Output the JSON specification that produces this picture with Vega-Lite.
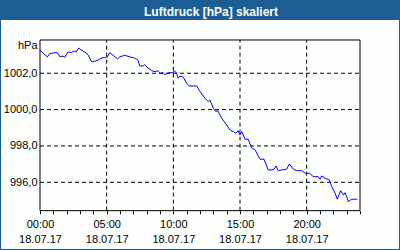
{
  "$schema": "https://vega.github.io/schema/vega-lite/v6.json",
  "autosize": "none",
  "width": 398,
  "height": 229,
  "padding": {"top": 20, "left": 1, "right": 1, "bottom": 1},
  "background": "#1c5e94",
  "config": {
    "view": {"fill": "#fcfffc", "stroke": null},
    "font": "Liberation Sans",
    "axis": {"grid": false, "domain": false, "labelFont": "Liberation Sans", "labelFontSize": 11, "labelColor": "#000000", "labelOverlap": false, "labelBound": false, "labelFlush": false}
  },
  "title": {
    "text": "Luftdruck [hPa] skaliert",
    "color": "#ffffff",
    "font": "Liberation Sans",
    "fontSize": 12,
    "fontWeight": "bold",
    "anchor": "middle",
    "frame": "group",
    "baseline": "alphabetic",
    "offset": -8,
    "dx": 11
  },
  "datasets": {
    "pressure": [
      {"t": "2017-07-18T00:00", "v": 1003.27},
      {"t": "2017-07-18T00:33", "v": 1002.90},
      {"t": "2017-07-18T00:44", "v": 1003.08},
      {"t": "2017-07-18T01:06", "v": 1003.13},
      {"t": "2017-07-18T01:18", "v": 1003.13},
      {"t": "2017-07-18T01:30", "v": 1002.90},
      {"t": "2017-07-18T01:44", "v": 1002.95},
      {"t": "2017-07-18T01:51", "v": 1002.86},
      {"t": "2017-07-18T02:06", "v": 1003.17},
      {"t": "2017-07-18T02:21", "v": 1003.13},
      {"t": "2017-07-18T02:33", "v": 1003.23},
      {"t": "2017-07-18T02:43", "v": 1003.17},
      {"t": "2017-07-18T02:54", "v": 1003.39},
      {"t": "2017-07-18T03:06", "v": 1003.27},
      {"t": "2017-07-18T03:21", "v": 1003.17},
      {"t": "2017-07-18T03:36", "v": 1003.02},
      {"t": "2017-07-18T03:48", "v": 1002.72},
      {"t": "2017-07-18T03:54", "v": 1002.62},
      {"t": "2017-07-18T04:06", "v": 1002.66},
      {"t": "2017-07-18T04:21", "v": 1002.72},
      {"t": "2017-07-18T04:36", "v": 1002.84},
      {"t": "2017-07-18T04:51", "v": 1002.86},
      {"t": "2017-07-18T05:03", "v": 1002.90},
      {"t": "2017-07-18T05:14", "v": 1003.13},
      {"t": "2017-07-18T05:29", "v": 1002.99},
      {"t": "2017-07-18T05:48", "v": 1002.80},
      {"t": "2017-07-18T05:59", "v": 1002.90},
      {"t": "2017-07-18T06:21", "v": 1002.99},
      {"t": "2017-07-18T06:44", "v": 1002.90},
      {"t": "2017-07-18T07:06", "v": 1002.84},
      {"t": "2017-07-18T07:21", "v": 1002.72},
      {"t": "2017-07-18T07:29", "v": 1002.40},
      {"t": "2017-07-18T07:44", "v": 1002.40},
      {"t": "2017-07-18T07:51", "v": 1002.47},
      {"t": "2017-07-18T08:07", "v": 1002.28},
      {"t": "2017-07-18T08:23", "v": 1002.14},
      {"t": "2017-07-18T08:38", "v": 1002.09},
      {"t": "2017-07-18T08:50", "v": 1002.14},
      {"t": "2017-07-18T09:00", "v": 1002.00},
      {"t": "2017-07-18T09:15", "v": 1002.03},
      {"t": "2017-07-18T09:23", "v": 1001.91},
      {"t": "2017-07-18T09:37", "v": 1002.03},
      {"t": "2017-07-18T10:00", "v": 1002.03},
      {"t": "2017-07-18T10:04", "v": 1002.14},
      {"t": "2017-07-18T10:15", "v": 1002.00},
      {"t": "2017-07-18T10:22", "v": 1001.72},
      {"t": "2017-07-18T10:30", "v": 1001.85},
      {"t": "2017-07-18T10:45", "v": 1001.78},
      {"t": "2017-07-18T11:00", "v": 1001.45},
      {"t": "2017-07-18T11:11", "v": 1001.30},
      {"t": "2017-07-18T11:45", "v": 1001.30},
      {"t": "2017-07-18T12:00", "v": 1000.99},
      {"t": "2017-07-18T12:23", "v": 1000.62},
      {"t": "2017-07-18T12:37", "v": 1000.44},
      {"t": "2017-07-18T12:45", "v": 1000.53},
      {"t": "2017-07-18T13:00", "v": 1000.07},
      {"t": "2017-07-18T13:11", "v": 999.89},
      {"t": "2017-07-18T13:20", "v": 999.94},
      {"t": "2017-07-18T13:38", "v": 999.52},
      {"t": "2017-07-18T14:00", "v": 999.15},
      {"t": "2017-07-18T14:15", "v": 998.88},
      {"t": "2017-07-18T14:30", "v": 998.79},
      {"t": "2017-07-18T14:41", "v": 998.70},
      {"t": "2017-07-18T14:52", "v": 998.84},
      {"t": "2017-07-18T15:00", "v": 998.60},
      {"t": "2017-07-18T15:08", "v": 998.79},
      {"t": "2017-07-18T15:23", "v": 998.37},
      {"t": "2017-07-18T15:37", "v": 998.37},
      {"t": "2017-07-18T15:50", "v": 997.96},
      {"t": "2017-07-18T15:55", "v": 997.87},
      {"t": "2017-07-18T16:04", "v": 997.82},
      {"t": "2017-07-18T16:08", "v": 997.78},
      {"t": "2017-07-18T16:30", "v": 997.27},
      {"t": "2017-07-18T16:48", "v": 997.27},
      {"t": "2017-07-18T17:07", "v": 996.68},
      {"t": "2017-07-18T17:30", "v": 996.68},
      {"t": "2017-07-18T17:42", "v": 996.90},
      {"t": "2017-07-18T17:52", "v": 996.64},
      {"t": "2017-07-18T18:08", "v": 996.68},
      {"t": "2017-07-18T18:30", "v": 996.72},
      {"t": "2017-07-18T18:42", "v": 997.01},
      {"t": "2017-07-18T19:00", "v": 996.72},
      {"t": "2017-07-18T19:15", "v": 996.64},
      {"t": "2017-07-18T19:38", "v": 996.64},
      {"t": "2017-07-18T19:53", "v": 996.50},
      {"t": "2017-07-18T20:12", "v": 996.50},
      {"t": "2017-07-18T20:30", "v": 996.31},
      {"t": "2017-07-18T20:52", "v": 996.31},
      {"t": "2017-07-18T21:00", "v": 996.17},
      {"t": "2017-07-18T21:08", "v": 996.35},
      {"t": "2017-07-18T21:23", "v": 996.22},
      {"t": "2017-07-18T21:42", "v": 996.13},
      {"t": "2017-07-18T21:53", "v": 995.76},
      {"t": "2017-07-18T22:08", "v": 995.40},
      {"t": "2017-07-18T22:18", "v": 995.07},
      {"t": "2017-07-18T22:33", "v": 995.54},
      {"t": "2017-07-18T22:45", "v": 995.30},
      {"t": "2017-07-18T22:53", "v": 995.43},
      {"t": "2017-07-18T23:03", "v": 995.12},
      {"t": "2017-07-18T23:07", "v": 994.93},
      {"t": "2017-07-18T23:23", "v": 995.07},
      {"t": "2017-07-18T23:48", "v": 995.07}
    ],
    "gridx": [
      {"t": "2017-07-18T05:00"},
      {"t": "2017-07-18T10:00"},
      {"t": "2017-07-18T15:00"},
      {"t": "2017-07-18T20:00"}
    ],
    "gridy": [
      {"v": 996},
      {"v": 998},
      {"v": 1000},
      {"v": 1002}
    ]
  },
  "layer": [
    {
      "data": {"name": "gridx"},
      "mark": {"type": "rule", "color": "#000000", "strokeWidth": 1, "strokeDash": [4, 3]},
      "encoding": {
        "x": {"field": "t", "type": "temporal", "title": null,
              "scale": {"domain": [{"year": 2017, "month": 7, "date": 17, "hours": 21, "minutes": 4, "seconds": 30}, {"year": 2017, "month": 7, "date": 19, "hours": 2, "minutes": 55, "seconds": 30}], "nice": false},
              "axis": {
                "orient": "bottom",
                "offset": -38.3,
                "tickCount": 40,
                "values": [
                  {"year": 2017, "month": 7, "date": 18, "hours": 0},
                  {"year": 2017, "month": 7, "date": 18, "hours": 1},
                  {"year": 2017, "month": 7, "date": 18, "hours": 2},
                  {"year": 2017, "month": 7, "date": 18, "hours": 3},
                  {"year": 2017, "month": 7, "date": 18, "hours": 4},
                  {"year": 2017, "month": 7, "date": 18, "hours": 5},
                  {"year": 2017, "month": 7, "date": 18, "hours": 6},
                  {"year": 2017, "month": 7, "date": 18, "hours": 7},
                  {"year": 2017, "month": 7, "date": 18, "hours": 8},
                  {"year": 2017, "month": 7, "date": 18, "hours": 9},
                  {"year": 2017, "month": 7, "date": 18, "hours": 10},
                  {"year": 2017, "month": 7, "date": 18, "hours": 11},
                  {"year": 2017, "month": 7, "date": 18, "hours": 12},
                  {"year": 2017, "month": 7, "date": 18, "hours": 13},
                  {"year": 2017, "month": 7, "date": 18, "hours": 14},
                  {"year": 2017, "month": 7, "date": 18, "hours": 15},
                  {"year": 2017, "month": 7, "date": 18, "hours": 16},
                  {"year": 2017, "month": 7, "date": 18, "hours": 17},
                  {"year": 2017, "month": 7, "date": 18, "hours": 18},
                  {"year": 2017, "month": 7, "date": 18, "hours": 19},
                  {"year": 2017, "month": 7, "date": 18, "hours": 20},
                  {"year": 2017, "month": 7, "date": 18, "hours": 21},
                  {"year": 2017, "month": 7, "date": 18, "hours": 22},
                  {"year": 2017, "month": 7, "date": 18, "hours": 23},
                  {"year": 2017, "month": 7, "date": 19, "hours": 0}
                ],
                "labelExpr": "(date(datum.value) == 18 && hours(datum.value) % 5 == 0) ? [timeFormat(datum.value, '%H:%M'), timeFormat(datum.value, '%d.%m.%y')] : ''",
                "ticks": true,
                "tickSize": 3,
                "tickColor": "#000000",
                "tickWidth": 1,
                "labelPadding": 5,
                "labelBaseline": "top",
                "labelLineHeight": 15,
                "labelOverlap": false,
                "labelFlush": false,
                "labelBound": false
              }},
        "y": {"datum": 994.44, "type": "quantitative", "title": null, "scale": {"domain": [992.33, 1004.93], "nice": false, "zero": false}},
        "y2": {"datum": 1003.83}
      }
    },
    {
      "data": {"name": "gridy"},
      "mark": {"type": "rule", "color": "#000000", "strokeWidth": 1, "strokeDash": [4, 3]},
      "encoding": {
        "x": {"datum": {"year": 2017, "month": 7, "date": 18}, "type": "temporal", "title": null},
        "x2": {"datum": {"year": 2017, "month": 7, "date": 19}},
        "y": {"field": "v", "type": "quantitative", "title": null}
      }
    },
    {
      "data": {"values": [{"frame": "plot"}]},
      "mark": {"type": "rect", "filled": false, "stroke": "#000000", "strokeWidth": 1},
      "encoding": {
        "x": {"datum": {"year": 2017, "month": 7, "date": 18}, "type": "temporal", "title": null},
        "x2": {"datum": {"year": 2017, "month": 7, "date": 19}},
        "y": {"datum": 994.44, "type": "quantitative", "title": null},
        "y2": {"datum": 1003.83}
      }
    },
    {
      "data": {"name": "pressure"},
      "mark": {"type": "line", "color": "#0000ff", "strokeWidth": 1, "interpolate": "linear"},
      "encoding": {
        "x": {"field": "t", "type": "temporal", "title": null},
        "y": {
          "field": "v", "type": "quantitative", "title": null,
          "axis": {
            "orient": "left",
            "offset": -39,
            "tickCount": 10,
            "values": [996, 998, 1000, 1002, 1003.5],
            "labelExpr": "datum.value > 1003 ? 'hPa' : replace(format(datum.value, '.1f'), '.', ',')",
            "ticks": false,
            "tickSize": 0,
            "labelPadding": 3,
            "labelBaseline": "middle",
            "labelOverlap": false,
            "labelFlush": false,
            "labelBound": false
          }
        }
      }
    }
  ]
}
